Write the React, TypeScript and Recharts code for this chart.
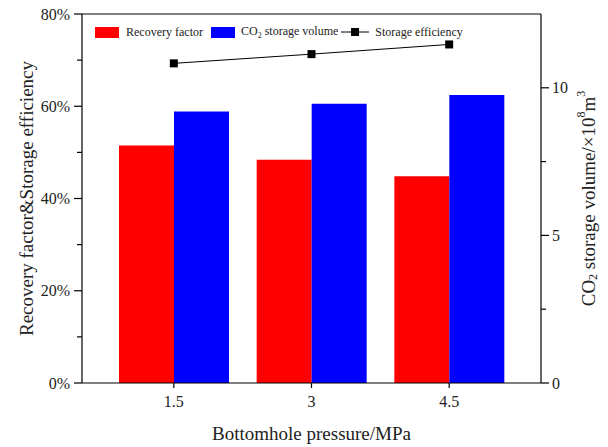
import React from "react";
import {
  ComposedChart,
  Bar,
  Line,
  XAxis,
  YAxis,
  Legend,
  ReferenceLine,
} from "recharts";

const pressures = ["1.5", "3", "4.5"];
const recoveryFactor = [51.5, 48.4, 44.8]; // %
const storageVolume = [9.2, 9.46, 9.76]; // ×10^8 m^3
const storageEfficiency = [69.3, 71.3, 73.4]; // %

const pctTicks = [0, 10, 20, 30, 40, 50, 60, 70, 80];
const volTicks = [0, 2.5, 5, 7.5, 10];

const data = pressures.map((p, i) => ({
  pressure: p,
  recovery: recoveryFactor[i],
  volume: storageVolume[i],
  efficiency: storageEfficiency[i],
}));

const FONT = "'Liberation Serif', 'Times New Roman', serif";
const W = 608;
const H = 447;
const LEFT_W = 82;
const RIGHT_W = 67;
const TOP = 14;
const X_H = 64;

// left axis ticks: labelled major every 20%, short minor tick in between
const PctTick = (props: any) => {
  const { y, payload } = props;
  const major = payload.value % 20 === 0;
  return (
    <g>
      <line x1={LEFT_W - (major ? 8 : 5)} x2={LEFT_W} y1={y} y2={y} stroke="#000" strokeWidth={1.2} />
      {major && (
        <text x={LEFT_W - 12} y={y} textAnchor="end" dominantBaseline="central" fontSize={16} fontFamily={FONT} fill="#222">
          {payload.value}%
        </text>
      )}
    </g>
  );
};

const VolTick = (props: any) => {
  const { y, payload } = props;
  const major = payload.value % 5 === 0;
  const ax = W - RIGHT_W;
  return (
    <g>
      <line x1={ax} x2={ax + (major ? 8 : 5)} y1={y} y2={y} stroke="#000" strokeWidth={1.2} />
      {major && (
        <text x={ax + 11} y={y} textAnchor="start" dominantBaseline="central" fontSize={16} fontFamily={FONT} fill="#222">
          {payload.value}
        </text>
      )}
    </g>
  );
};

const SquareDot = (props: any) => {
  const { cx, cy } = props;
  if (cx == null || cy == null) return null;
  return <rect x={cx - 4} y={cy - 4} width={8} height={8} fill="#000" />;
};

const LeftTitle = (props: any) => {
  const vb = props.viewBox || {};
  const cx = 26;
  const cy = (vb.y ?? TOP) + (vb.height ?? 369) / 2;
  return (
    <text x={cx} y={cy} transform={`rotate(-90 ${cx} ${cy})`} textAnchor="middle" dominantBaseline="central" fontSize={19} fontFamily={FONT} fill="#222">
      Recovery factor&amp;Storage efficiency
    </text>
  );
};

const RightTitle = (props: any) => {
  const vb = props.viewBox || {};
  const cx = (vb.x ?? W - RIGHT_W) + 47;
  const cy = (vb.y ?? TOP) + (vb.height ?? 369) / 2;
  return (
    <text x={cx} y={cy} transform={`rotate(-90 ${cx} ${cy})`} textAnchor="middle" dominantBaseline="central" fontSize={19} fontFamily={FONT} fill="#222">
      CO<tspan fontSize={12} dy={5}>2</tspan>
      <tspan dy={-5}> storage volume/×10</tspan>
      <tspan fontSize={12} dy={-7}>8</tspan>
      <tspan dy={7}>m</tspan>
      <tspan fontSize={12} dy={-7}>3</tspan>
    </text>
  );
};

const BottomTitle = (props: any) => {
  const vb = props.viewBox || {};
  const cx = (vb.x ?? LEFT_W) + (vb.width ?? 459) / 2;
  return (
    <text x={cx} y={440} textAnchor="middle" fontSize={19} fontFamily={FONT} fill="#222">
      Bottomhole pressure/MPa
    </text>
  );
};

const swatch = (color: string) => (
  <span style={{ display: "inline-block", width: 24, height: 11, background: color }} />
);

const renderLegend = () => (
  <div style={{ display: "flex", alignItems: "center", fontFamily: FONT, fontSize: 12, color: "#222", whiteSpace: "nowrap", height: 14 }}>
    {swatch("#ff0000")}
    <span style={{ marginLeft: 7, marginRight: 8 }}>Recovery factor</span>
    {swatch("#0000ff")}
    <span style={{ marginLeft: 6, marginRight: 3 }}>
      CO<sub style={{ fontSize: 8 }}>2</sub> storage volume
    </span>
    <svg width={28} height={10}>
      <line x1={0} x2={28} y1={5} y2={5} stroke="#000" strokeWidth={1} />
      <rect x={10} y={1} width={8} height={8} fill="#000" />
    </svg>
    <span style={{ marginLeft: 6 }}>Storage efficiency</span>
  </div>
);

export default function App() {
  return (
    <div style={{ position: "absolute", left: 0, top: 0, background: "#fff" }}>
      <ComposedChart
        width={W}
        height={H}
        data={data}
        margin={{ top: TOP, right: 0, left: 0, bottom: 0 }}
        barGap={0}
        barSize={55}
      >
        <XAxis
          dataKey="pressure"
          height={X_H}
          padding={{ left: 23, right: 23 }}
          tickSize={5}
          tickMargin={8}
          interval={0}
          axisLine={{ stroke: "#000", strokeWidth: 1.2 }}
          tickLine={{ stroke: "#000", strokeWidth: 1.2 }}
          tick={{ fontSize: 16, fill: "#222", fontFamily: FONT }}
          label={{ content: <BottomTitle /> }}
        />
        <YAxis
          yAxisId="pct"
          orientation="left"
          width={LEFT_W}
          domain={[0, 80]}
          ticks={pctTicks}
          interval={0}
          tickLine={false}
          axisLine={{ stroke: "#000", strokeWidth: 1.2 }}
          tick={<PctTick />}
          label={{ content: <LeftTitle /> }}
        />
        <YAxis
          yAxisId="vol"
          orientation="right"
          width={RIGHT_W}
          domain={[0, 12.5]}
          ticks={volTicks}
          interval={0}
          tickLine={false}
          axisLine={{ stroke: "#000", strokeWidth: 1.2 }}
          tick={<VolTick />}
          label={{ content: <RightTitle /> }}
        />
        <ReferenceLine yAxisId="pct" y={80} stroke="#000" strokeWidth={1.2} />
        <Legend
          layout="vertical"
          align="center"
          verticalAlign="middle"
          content={renderLegend}
          wrapperStyle={{ top: 25, left: 95, width: "auto", height: 14 }}
        />
        <Bar yAxisId="pct" dataKey="recovery" name="Recovery factor" fill="#ff0000" isAnimationActive={false} />
        <Bar yAxisId="vol" dataKey="volume" name="CO2 storage volume" fill="#0000ff" isAnimationActive={false} />
        <Line
          yAxisId="pct"
          dataKey="efficiency"
          name="Storage efficiency"
          type="linear"
          stroke="#000"
          strokeWidth={1}
          dot={<SquareDot />}
          activeDot={false}
          isAnimationActive={false}
        />
      </ComposedChart>
    </div>
  );
}
